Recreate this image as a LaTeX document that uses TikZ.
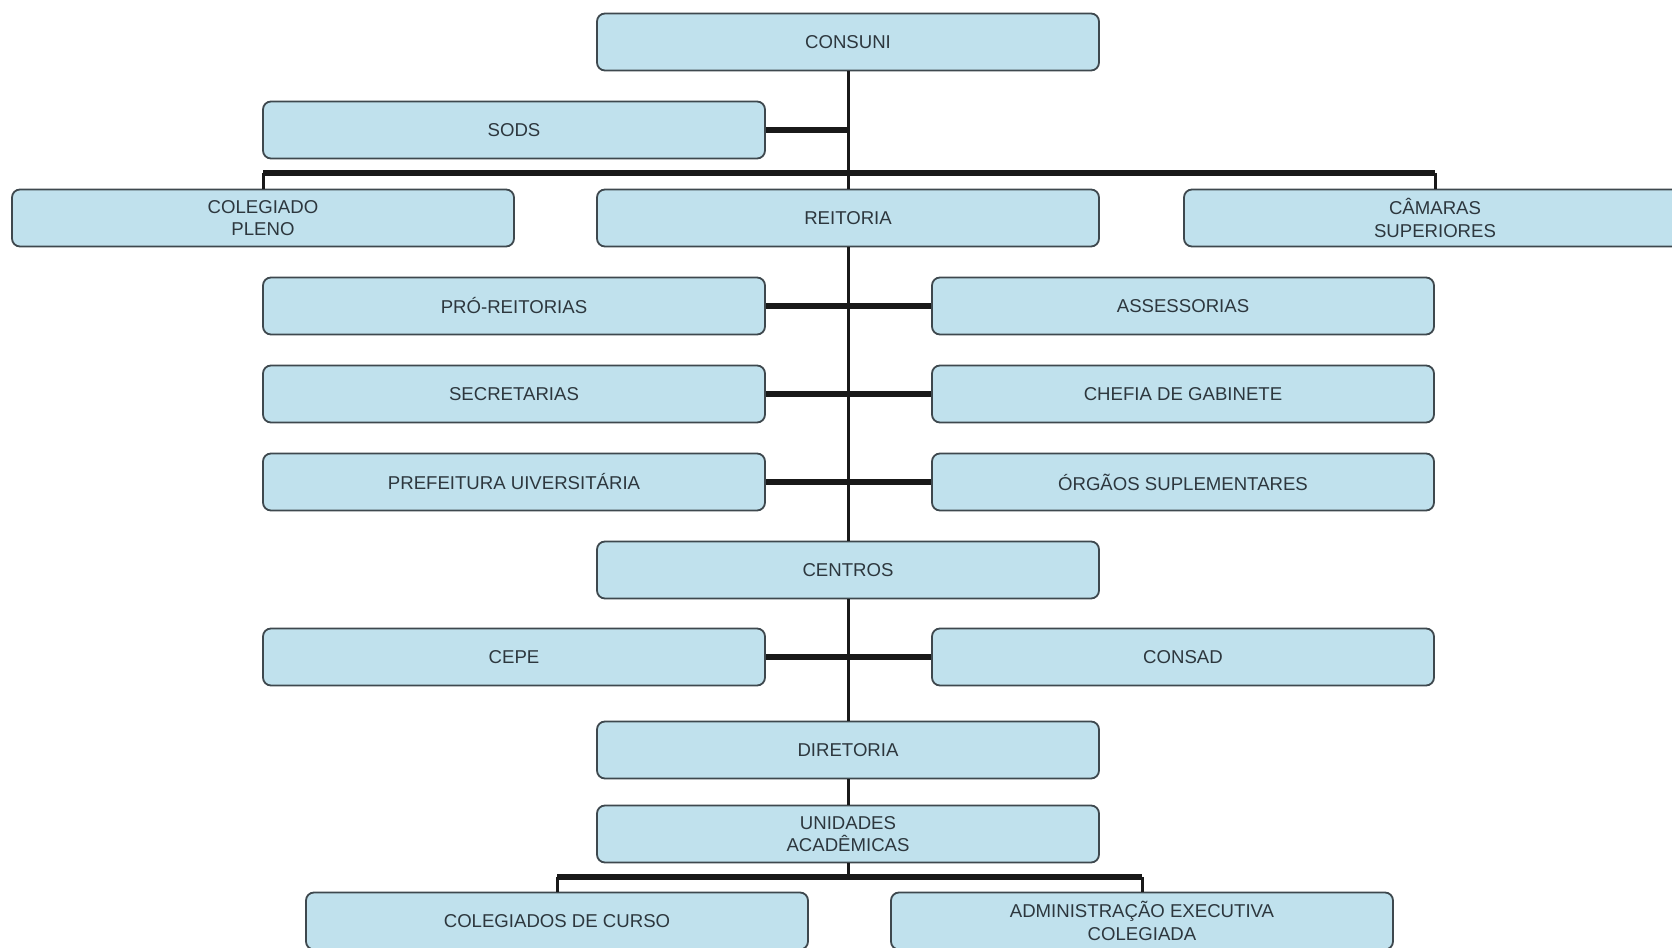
\documentclass[tikz,border=0pt]{standalone}
\usepackage{fontspec}
\setmainfont{Liberation Sans}
\usepackage{tikz}
\definecolor{boxfill}{RGB}{192, 225, 237}
\definecolor{boxline}{RGB}{62, 72, 78}
\definecolor{boxtext}{RGB}{45, 55, 62}
\definecolor{linkcol}{RGB}{25, 25, 25}
\usetikzlibrary{positioning}

\begin{document}
\begin{tikzpicture}[x=0.5pt, y=-0.5pt,
  box/.style={rectangle, rounded corners=4pt, minimum width=251pt, minimum height=28.5pt,
    fill=boxfill, draw=boxline, line width=0.9pt, align=center, text=boxtext,
    font=\fontsize{9.3}{11.2}\selectfont, inner sep=1pt},
  trunk/.style={line width=1.5pt, color=linkcol},
  branch/.style={line width=2.6pt, color=linkcol}]
\useasboundingbox (0,0) rectangle (1672,948);
\clip (0,0) rectangle (1672,948);
\fill [white] (0,0) rectangle (1672,948);
\node (consuni) [box] at (848, 42) {CONSUNI};
\node (sods) [box] at (514, 130) {SODS};
\node (colegiado) [box] at (263, 218) {COLEGIADO\\PLENO};
\node (reitoria) [box] at (848, 218) {REITORIA};
\node (camaras) [box] at (1435, 218) {CÂMARAS\\SUPERIORES};
\node (prorei) [box] at (514, 306) {PRÓ-REITORIAS};
\node (assess) [box] at (1183, 306) {ASSESSORIAS};
\node (secret) [box] at (514, 394) {SECRETARIAS};
\node (chefia) [box] at (1183, 394) {CHEFIA DE GABINETE};
\node (prefeit) [box] at (514, 482) {PREFEITURA UIVERSITÁRIA};
\node (orgaos) [box] at (1183, 482) {ÓRGÃOS SUPLEMENTARES};
\node (centros) [box] at (848, 570) {CENTROS};
\node (cepe) [box] at (514, 657) {CEPE};
\node (consad) [box] at (1183, 657) {CONSAD};
\node (diretoria) [box] at (848, 750) {DIRETORIA};
\node (unidades) [box] at (848, 834) {UNIDADES\\ACADÊMICAS};
\node (colcurso) [box] at (557, 921) {COLEGIADOS DE CURSO};
\node (admexec) [box] at (1142, 921) {ADMINISTRAÇÃO EXECUTIVA\\COLEGIADA};
\coordinate (jsods) at (848, 130);
\coordinate (bustop) at (848, 173);
\coordinate (busleft) at (263, 173);
\coordinate (busright) at (1435, 173);
\coordinate (busbot) at (848, 877);
\coordinate (bbleft) at (557, 877);
\coordinate (bbright) at (1142, 877);
% trunk
\draw [trunk] (consuni) to (reitoria);
\draw [trunk] (reitoria) to (centros);
\draw [trunk] (centros) to (diretoria);
\draw [trunk] (diretoria) to (unidades);
\draw [trunk] (unidades) to (busbot);
% branches
\draw [branch] (sods) to (jsods);
\draw [branch] (busleft) to (busright);
\draw [trunk] (busleft) to (colegiado);
\draw [trunk] (busright) to (camaras);
\draw [branch] (prorei) to (assess);
\draw [branch] (secret) to (chefia);
\draw [branch] (prefeit) to (orgaos);
\draw [branch] (cepe) to (consad);
\draw [branch] (bbleft) to (bbright);
\draw [trunk] (bbleft) to (colcurso);
\draw [trunk] (bbright) to (admexec);
\end{tikzpicture}
\end{document}
